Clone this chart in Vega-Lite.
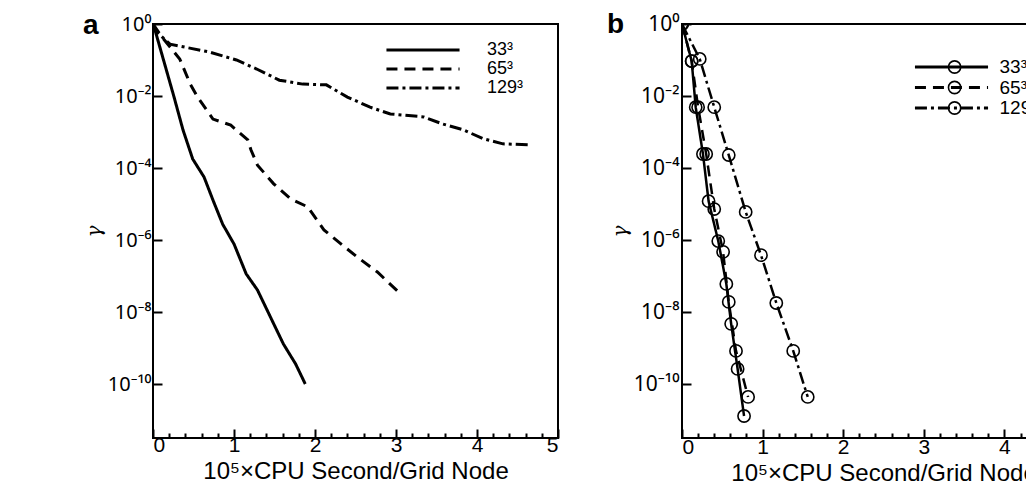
{
  "$schema": "https://vega.github.io/schema/vega-lite/v6.json",
  "padding": {"left": 82, "top": 10, "right": 0, "bottom": 0},
  "background": "white",
  "datasets": {
    "d": [
      {"panel": "a", "series": "33³", "x": 0, "y": 1},
      {"panel": "a", "series": "33³", "x": 0.025, "y": 0.676},
      {"panel": "a", "series": "33³", "x": 0.26, "y": 0.00933},
      {"panel": "a", "series": "33³", "x": 0.37, "y": 0.00115},
      {"panel": "a", "series": "33³", "x": 0.49, "y": 0.000178},
      {"panel": "a", "series": "33³", "x": 0.63, "y": 0.0000562},
      {"panel": "a", "series": "33³", "x": 0.74, "y": 0.0000129},
      {"panel": "a", "series": "33³", "x": 0.86, "y": 0.00000275},
      {"panel": "a", "series": "33³", "x": 1.0, "y": 7.76e-7},
      {"panel": "a", "series": "33³", "x": 1.15, "y": 1.15e-7},
      {"panel": "a", "series": "33³", "x": 1.29, "y": 4.07e-8},
      {"panel": "a", "series": "33³", "x": 1.45, "y": 7.24e-9},
      {"panel": "a", "series": "33³", "x": 1.61, "y": 1.29e-9},
      {"panel": "a", "series": "33³", "x": 1.76, "y": 3.63e-10},
      {"panel": "a", "series": "33³", "x": 1.88, "y": 1.0e-10},
      {"panel": "a", "series": "65³", "x": 0, "y": 1},
      {"panel": "a", "series": "65³", "x": 0.11, "y": 0.437},
      {"panel": "a", "series": "65³", "x": 0.33, "y": 0.107},
      {"panel": "a", "series": "65³", "x": 0.46, "y": 0.0214},
      {"panel": "a", "series": "65³", "x": 0.55, "y": 0.00933},
      {"panel": "a", "series": "65³", "x": 0.74, "y": 0.00229},
      {"panel": "a", "series": "65³", "x": 0.96, "y": 0.00155},
      {"panel": "a", "series": "65³", "x": 1.17, "y": 0.000603},
      {"panel": "a", "series": "65³", "x": 1.21, "y": 0.000316},
      {"panel": "a", "series": "65³", "x": 1.29, "y": 0.00012},
      {"panel": "a", "series": "65³", "x": 1.49, "y": 0.0000363},
      {"panel": "a", "series": "65³", "x": 1.7, "y": 0.0000138},
      {"panel": "a", "series": "65³", "x": 1.91, "y": 0.00000832},
      {"panel": "a", "series": "65³", "x": 2.11, "y": 0.00000191},
      {"panel": "a", "series": "65³", "x": 2.32, "y": 7.76e-7},
      {"panel": "a", "series": "65³", "x": 2.52, "y": 3.39e-7},
      {"panel": "a", "series": "65³", "x": 2.77, "y": 1.29e-7},
      {"panel": "a", "series": "65³", "x": 3.03, "y": 3.63e-8},
      {"panel": "a", "series": "129³", "x": 0, "y": 1},
      {"panel": "a", "series": "129³", "x": 0.02, "y": 0.676},
      {"panel": "a", "series": "129³", "x": 0.21, "y": 0.275},
      {"panel": "a", "series": "129³", "x": 0.7, "y": 0.166},
      {"panel": "a", "series": "129³", "x": 1.03, "y": 0.1},
      {"panel": "a", "series": "129³", "x": 1.28, "y": 0.0562},
      {"panel": "a", "series": "129³", "x": 1.56, "y": 0.0275},
      {"panel": "a", "series": "129³", "x": 1.85, "y": 0.0214},
      {"panel": "a", "series": "129³", "x": 2.14, "y": 0.0204},
      {"panel": "a", "series": "129³", "x": 2.4, "y": 0.00933},
      {"panel": "a", "series": "129³", "x": 2.68, "y": 0.0049},
      {"panel": "a", "series": "129³", "x": 2.93, "y": 0.00316},
      {"panel": "a", "series": "129³", "x": 3.34, "y": 0.00263},
      {"panel": "a", "series": "129³", "x": 3.58, "y": 0.00166},
      {"panel": "a", "series": "129³", "x": 3.83, "y": 0.00115},
      {"panel": "a", "series": "129³", "x": 4.08, "y": 0.000646},
      {"panel": "a", "series": "129³", "x": 4.32, "y": 0.000468},
      {"panel": "a", "series": "129³", "x": 4.66, "y": 0.000437},
      {"panel": "b", "series": "33³", "x": 0, "y": 1},
      {"panel": "b", "series": "33³", "x": 0.12, "y": 0.0933},
      {"panel": "b", "series": "33³", "x": 0.17, "y": 0.0049},
      {"panel": "b", "series": "33³", "x": 0.26, "y": 0.000245},
      {"panel": "b", "series": "33³", "x": 0.33, "y": 0.000012},
      {"panel": "b", "series": "33³", "x": 0.45, "y": 9.33e-7},
      {"panel": "b", "series": "33³", "x": 0.55, "y": 6.03e-8},
      {"panel": "b", "series": "33³", "x": 0.61, "y": 4.68e-9},
      {"panel": "b", "series": "33³", "x": 0.69, "y": 2.63e-10},
      {"panel": "b", "series": "33³", "x": 0.77, "y": 1.29e-11},
      {"panel": "b", "series": "65³", "x": 0, "y": 1},
      {"panel": "b", "series": "65³", "x": 0.12, "y": 0.0933},
      {"panel": "b", "series": "65³", "x": 0.2, "y": 0.0049},
      {"panel": "b", "series": "65³", "x": 0.3, "y": 0.000245},
      {"panel": "b", "series": "65³", "x": 0.4, "y": 0.00000724},
      {"panel": "b", "series": "65³", "x": 0.51, "y": 4.68e-7},
      {"panel": "b", "series": "65³", "x": 0.58, "y": 1.91e-8},
      {"panel": "b", "series": "65³", "x": 0.67, "y": 8.32e-10},
      {"panel": "b", "series": "65³", "x": 0.82, "y": 4.37e-11},
      {"panel": "b", "series": "129³", "x": 0, "y": 1},
      {"panel": "b", "series": "129³", "x": 0.22, "y": 0.107},
      {"panel": "b", "series": "129³", "x": 0.4, "y": 0.0049},
      {"panel": "b", "series": "129³", "x": 0.58, "y": 0.000229},
      {"panel": "b", "series": "129³", "x": 0.79, "y": 0.00000603},
      {"panel": "b", "series": "129³", "x": 0.98, "y": 3.8e-7},
      {"panel": "b", "series": "129³", "x": 1.17, "y": 1.78e-8},
      {"panel": "b", "series": "129³", "x": 1.38, "y": 8.32e-10},
      {"panel": "b", "series": "129³", "x": 1.56, "y": 4.37e-11}
    ]
  },
  "spacing": 124,
  "bounds": "flush",
  "resolve": {
    "scale": {"strokeDash": "independent", "shape": "independent"},
    "legend": {"strokeDash": "independent", "shape": "independent"}
  },
  "hconcat": [
    {
      "width": 405,
      "height": 414,
      "title": {"text": "a", "anchor": "start", "frame": "group", "dx": -70, "offset": -26, "fontSize": 28, "fontWeight": "bold", "font": "Liberation Sans", "color": "black"},
      "data": {"name": "d"},
      "transform": [{"filter": "datum.panel === 'a'"}],
      "mark": {"type": "line", "strokeWidth": 3, "color": "black", "clip": true},
      "encoding": {
        "x": {"field": "x", "type": "quantitative", "scale": {"domain": [0, 5], "nice": false, "zero": false},
          "axis": {"title": "10⁵×CPU Second/Grid Node", "values": [0,0.2,0.4,0.6,0.8,1,1.2,1.4,1.6,1.8,2,2.2,2.4,2.6,2.8,3,3.2,3.4,3.6,3.8,4,4.2,4.4,4.6,4.8,5],
            "labelExpr": "abs(datum.value - round(datum.value)) < 0.001 ? format(datum.value, 'd') : ''",
            "tickSize": {"condition": {"test": "abs(datum.value - round(datum.value)) < 0.001", "value": -9}, "value": -5},
            "labelPadding": 5, "titlePadding": 4, "titleFontSize": 24}},
        "y": {"field": "y", "type": "quantitative", "scale": {"type": "log", "domain": [3.1623e-12, 1], "nice": false},
          "axis": {"title": "γ", "values": [1, 0.01, 0.0001, 0.000001, 1e-8, 1e-10],
            "labelExpr": "datum.value > 0.5 ? '10⁰' : datum.value > 0.001 ? '10⁻²' : datum.value > 0.00001 ? '10⁻⁴' : datum.value > 1e-7 ? '10⁻⁶' : datum.value > 1e-9 ? '10⁻⁸' : '10⁻¹⁰'",
            "tickSize": -9, "labelPadding": 11, "labelFont": "Noto Sans", "labelFontSize": 20}},
        "strokeDash": {"field": "series", "type": "nominal",
          "scale": {"domain": ["33³", "65³", "129³"], "range": [[1, 0], [11, 7], [12, 4, 3, 4]]},
          "legend": {"orient": "none", "legendX": 260, "legendY": 16, "title": null, "symbolType": "M-4.3,0H4.3", "symbolSize": 289, "symbolStrokeWidth": 3, "symbolStrokeColor": "black", "rowPadding": 0, "padding": 0, "labelOffset": 54, "labelFontSize": 18, "labelFont": "Liberation Sans", "labelColor": "black"}}
      }
    },
    {
      "width": 403,
      "height": 414,
      "title": {"text": "b", "anchor": "start", "frame": "group", "dx": -75, "offset": -26, "fontSize": 28, "fontWeight": "bold", "font": "Liberation Sans", "color": "black"},
      "data": {"name": "d"},
      "transform": [{"filter": "datum.panel === 'b'"}],
      "resolve": {"legend": {"strokeDash": "independent", "shape": "independent"}},
      "encoding": {
        "x": {"field": "x", "type": "quantitative", "scale": {"domain": [0, 5], "nice": false, "zero": false},
          "axis": {"title": "10⁵×CPU Second/Grid Node", "values": [0,0.2,0.4,0.6,0.8,1,1.2,1.4,1.6,1.8,2,2.2,2.4,2.6,2.8,3,3.2,3.4,3.6,3.8,4,4.2,4.4,4.6,4.8,5],
            "labelExpr": "abs(datum.value - round(datum.value)) < 0.001 ? format(datum.value, 'd') : ''",
            "tickSize": {"condition": {"test": "abs(datum.value - round(datum.value)) < 0.001", "value": -9}, "value": -5},
            "labelPadding": 7, "titlePadding": 4, "titleFontSize": 24}},
        "y": {"field": "y", "type": "quantitative", "scale": {"type": "log", "domain": [3.1623e-12, 1], "nice": false},
          "axis": {"title": "γ", "values": [1, 0.01, 0.0001, 0.000001, 1e-8, 1e-10],
            "labelExpr": "datum.value > 0.5 ? '10⁰' : datum.value > 0.001 ? '10⁻²' : datum.value > 0.00001 ? '10⁻⁴' : datum.value > 1e-7 ? '10⁻⁶' : datum.value > 1e-9 ? '10⁻⁸' : '10⁻¹⁰'",
            "tickSize": -9, "labelPadding": 12, "labelFont": "Noto Sans", "labelFontSize": 21, "titleFontSize": 20}}
      },
      "layer": [
        {
          "mark": {"type": "line", "strokeWidth": 2.5, "color": "black", "clip": true},
          "encoding": {
            "strokeDash": {"field": "series", "type": "nominal",
              "scale": {"domain": ["33³", "65³", "129³"], "range": [[1, 0], [11, 7], [12, 4, 3, 4]]},
              "legend": {"orient": "none", "legendX": 259.5, "legendY": 33, "title": null, "symbolType": "M-4.3,0H4.3", "symbolSize": 289, "symbolStrokeWidth": 3, "symbolStrokeColor": "black", "rowPadding": 0.5, "padding": 0, "labelOffset": 38, "labelFontSize": 19, "labelFont": "Liberation Sans", "labelColor": "black"}}
          }
        },
        {
          "mark": {"type": "point", "shape": "circle", "filled": false, "size": 150, "strokeWidth": 1.6, "color": "black", "opacity": 1, "clip": true},
          "encoding": {
            "shape": {"field": "series", "type": "nominal",
              "scale": {"domain": ["33³", "65³", "129³"], "range": ["circle", "circle", "circle"]},
              "legend": {"orient": "none", "legendX": 262.6, "legendY": 33, "title": null, "symbolType": "circle", "symbolSize": 150, "symbolStrokeWidth": 1.6, "symbolStrokeColor": "black", "symbolFillColor": "white", "rowPadding": 0.5, "padding": 0, "labelExpr": "' '", "labelFontSize": 20}}
          }
        }
      ]
    }
  ],
  "config": {
    "view": {"stroke": "black", "strokeWidth": 2},
    "font": "Liberation Sans",
    "axis": {"domain": false, "tickColor": "black", "tickWidth": 2, "labelColor": "black", "labelFontSize": 21, "labelFont": "Liberation Sans", "titleColor": "black", "titleFontWeight": "normal", "titleFontSize": 24, "titleFont": "Liberation Sans", "grid": false},
    "axisY": {"titleFont": "DejaVu Serif", "titleFontStyle": "italic", "titleFontSize": 20, "titlePadding": 3}
  }
}
